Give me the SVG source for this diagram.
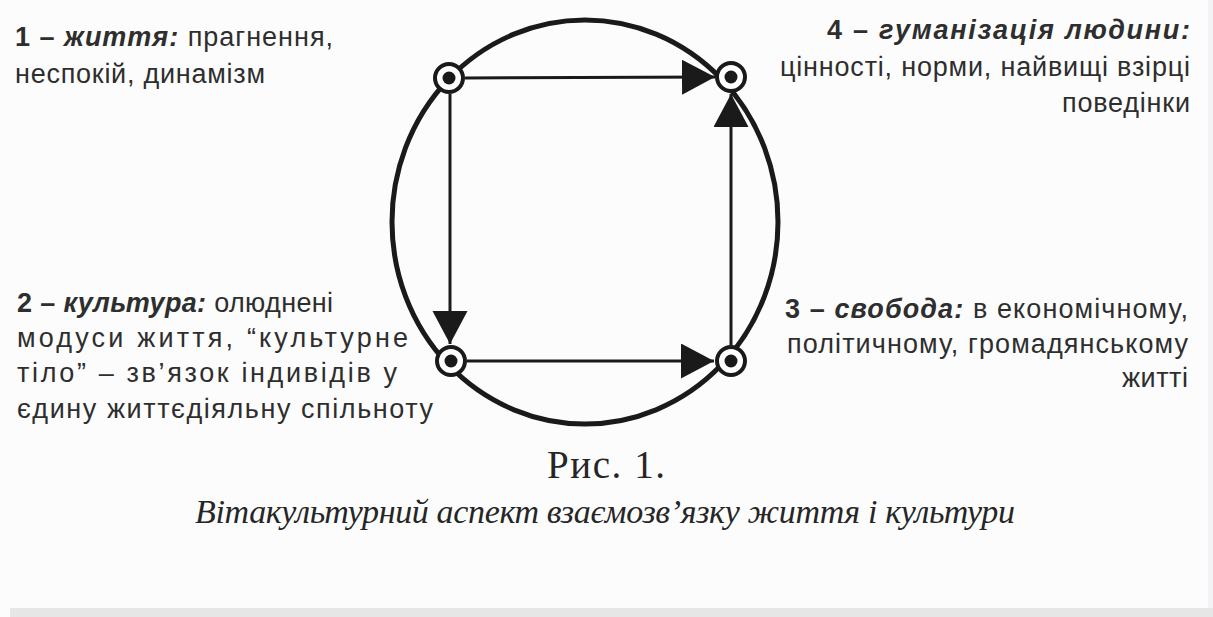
<svg xmlns="http://www.w3.org/2000/svg" width="1213" height="617" viewBox="0 0 1213 617">
<style>
.t{font-family:"Liberation Sans",Arial,sans-serif;font-size:27px;fill:#2e2e2e}
.b{font-weight:bold}
.bi{font-weight:bold;font-style:italic}
.cap{font-family:"Liberation Serif","Times New Roman",serif;fill:#262626}
.ring{fill:#fff;stroke:#1a1a1a;stroke-width:4}
.dot{fill:#1a1a1a}
.conn{stroke:#1a1a1a;stroke-width:3;fill:none}
</style>
<defs>
<marker id="ah" markerUnits="userSpaceOnUse" markerWidth="34" markerHeight="36" refX="33" refY="17.5" orient="auto">
<path d="M0,0 L33,17.5 L0,35 z" fill="#1a1a1a"/>
</marker>
</defs>
<rect width="1213" height="617" fill="#fcfcfc"/>
<rect x="1208" y="0" width="5" height="608" fill="#f3f3f5"/>
<rect x="10" y="608" width="1203" height="9" fill="#e6e6e6"/>
<ellipse id="outer-circle" cx="585" cy="222" rx="193" ry="202" fill="none" stroke="#1a1a1a" stroke-width="5"/>
<g id="connectors">
<line class="conn" x1="465" y1="78" x2="715" y2="77" marker-end="url(#ah)"/>
<line class="conn" x1="450" y1="94" x2="450" y2="344" marker-end="url(#ah)"/>
<line class="conn" x1="467" y1="361" x2="714" y2="361" marker-end="url(#ah)"/>
<line class="conn" x1="731" y1="345" x2="731" y2="94" marker-end="url(#ah)"/>
</g>
<g id="node1"><circle class="ring" cx="449" cy="78" r="14"/><circle class="dot" cx="449" cy="78" r="6.5"/></g>
<g id="node4"><circle class="ring" cx="731" cy="77" r="14"/><circle class="dot" cx="731" cy="77" r="6.5"/></g>
<g id="node2"><circle class="ring" cx="451" cy="361" r="14"/><circle class="dot" cx="451" cy="361" r="6.5"/></g>
<g id="node3"><circle class="ring" cx="731" cy="361" r="14"/><circle class="dot" cx="731" cy="361" r="6.5"/></g>
<g id="label1">
<text class="t" x="15" y="46" textLength="318" lengthAdjust="spacing"><tspan class="b">1 – </tspan><tspan class="bi">життя:</tspan> прагнення,</text>
<text class="t" x="15" y="83" textLength="250" lengthAdjust="spacing">неспокій, динамізм</text>
</g>
<g id="label4">
<text class="t" x="827" y="39" textLength="363" lengthAdjust="spacing"><tspan class="b">4 – </tspan><tspan class="bi">гуманізація людини:</tspan></text>
<text class="t" x="780" y="76" textLength="410" lengthAdjust="spacing">цінності, норми, найвищі взірці</text>
<text class="t" x="1062" y="112" textLength="128" lengthAdjust="spacing">поведінки</text>
</g>
<g id="label2">
<text class="t" x="17" y="312" textLength="316" lengthAdjust="spacing"><tspan class="b">2 – </tspan><tspan class="bi">культура:</tspan> олюднені</text>
<text class="t" x="17" y="347" textLength="391" lengthAdjust="spacing">модуси життя, “культурне</text>
<text class="t" x="17" y="382" textLength="380" lengthAdjust="spacing">тіло” – зв’язок індивідів у</text>
<text class="t" x="17" y="418" textLength="416" lengthAdjust="spacing">єдину життєдіяльну спільноту</text>
</g>
<g id="label3">
<text class="t" x="785" y="318" textLength="403" lengthAdjust="spacing"><tspan class="b">3 – </tspan><tspan class="bi">свобода:</tspan> в економічному,</text>
<text class="t" x="787" y="353" textLength="401" lengthAdjust="spacing">політичному, громадянському</text>
<text class="t" x="1122" y="387" textLength="66" lengthAdjust="spacing">житті</text>
</g>
<g id="caption">
<text class="cap" x="547" y="478" font-size="39" textLength="118" lengthAdjust="spacing">Рис. 1.</text>
<text class="cap" x="195" y="523" font-size="34" font-style="italic" textLength="820" lengthAdjust="spacing">Вітакультурний аспект взаємозв’язку життя і культури</text>
</g>
</svg>
